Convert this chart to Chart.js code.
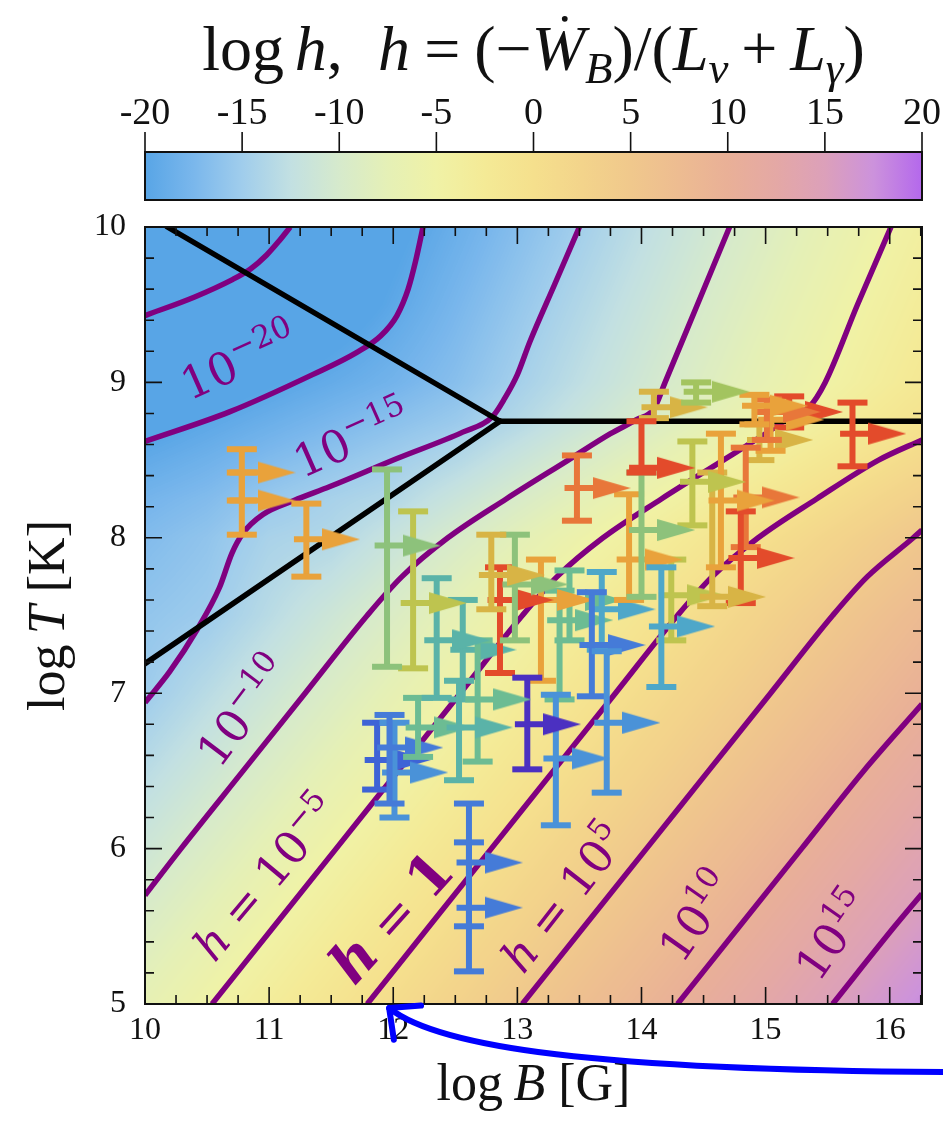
<!DOCTYPE html>
<html><head><meta charset="utf-8">
<script src="https://cdn.jsdelivr.net/npm/chart.js@4.4.0/dist/chart.umd.min.js"></script>
<style>html,body{margin:0;padding:0;background:#fff;}#wrap{width:943px;height:1123px;}</style>
</head><body><div id="wrap"><canvas id="c" width="943" height="1123"></canvas></div>
<script>
// ================= DATA =================
const xTicks = [10, 11, 12, 13, 14, 15, 16];
const yTicks = [5, 6, 7, 8, 9, 10];
const cbarTicks = [-20, -15, -10, -5, 0, 5, 10, 15, 20];

const gridB = [10, 10.5, 11, 11.5, 12, 12.5, 13, 13.5, 14, 14.5, 15, 15.5, 16, 16.5];
const gridT = [5, 5.5, 6, 6.5, 7, 7.5, 8, 8.25, 8.5, 8.75, 9, 9.5, 10];
const gridLogH = [
  [-7.16, -5.16, -3.16, -1.16, 0.84, 2.84, 4.84, 6.84, 8.84, 10.84, 12.84, 14.84, 16.84, 18.84],
  [-9.16, -7.16, -5.16, -3.16, -1.16, 0.84, 2.84, 4.84, 6.84, 8.84, 10.84, 12.84, 14.84, 16.84],
  [-11.16, -9.16, -7.16, -5.16, -3.16, -1.16, 0.84, 2.84, 4.84, 6.84, 8.84, 10.84, 12.84, 14.84],
  [-13.16, -11.16, -9.16, -7.16, -5.16, -3.16, -1.16, 0.84, 2.84, 4.84, 6.84, 8.84, 10.84, 12.84],
  [-15.16, -13.16, -11.16, -9.16, -7.16, -5.16, -3.16, -1.16, 0.84, 2.84, 4.84, 6.84, 8.84, 10.84],
  [-15.9, -15.17, -13.17, -11.17, -9.17, -7.17, -5.17, -3.17, -1.17, 0.83, 2.83, 4.83, 6.83, 8.83],
  [-17.0, -16.0, -14.3, -13.76, -11.76, -9.76, -7.76, -5.76, -3.76, -1.76, 0.24, 2.24, 4.24, 6.24],
  [-17.9, -17.0, -15.54, -14.45, -13.64, -11.64, -9.64, -7.64, -5.64, -3.64, -1.64, 0.36, 2.36, 4.36],
  [-19.3, -18.3, -17.09, -16.0, -14.92, -13.63, -11.63, -9.63, -7.63, -5.63, -3.63, -1.63, 0.37, 2.37],
  [-20.81, -19.72, -18.64, -17.55, -16.47, -15.38, -13.63, -11.63, -9.63, -7.63, -5.63, -3.63, -1.63, 0.37],
  [-22.36, -21.27, -20.19, -19.10, -18.02, -16.63, -14.68, -12.73, -10.78, -8.83, -6.88, -4.93, -2.98, -1.03],
  [-25.46, -24.37, -23.29, -21.56, -19.61, -17.66, -15.71, -13.76, -11.81, -9.86, -7.91, -5.96, -4.01, -2.06],
  [-28.56, -26.49, -24.54, -22.59, -20.64, -18.69, -16.74, -14.79, -12.84, -10.89, -8.94, -6.99, -5.04, -3.09]
];

// contour lines of log h  [log B, log T]
const contourM25 = [[10,9.43],[10.4,9.55],[10.7,9.66],[10.85,9.73],[10.98,9.82],[11.08,9.91],[11.17,10]];
const contourM20 = [[10,8.62],[10.68,8.81],[11.35,9.05],[11.7,9.19],[11.9,9.3],[12.03,9.43],[12.12,9.6],[12.18,9.78],[12.24,10]];
const contourM15 = [[10,6.94],[10.2,7.14],[10.42,7.41],[10.6,7.68],[10.7,7.9],[10.79,8.03],[10.95,8.15],[11.2,8.24],[11.49,8.33],[12.03,8.51],[12.56,8.68],[12.8,8.78],[12.9,8.9],[13.0,9.05],[13.1,9.26],[13.3,9.63],[13.5,10]];
const contourM10 = [[10,5.7],[10.29,6],[10.79,6.5],[11.29,7],[11.79,7.5],[12.07,7.75],[12.44,8],[12.91,8.25],[13.41,8.5],[13.75,8.67],[13.96,8.76],[14.1,8.83],[14.19,9],[14.45,9.5],[14.71,10]];
const contourM5 = [[10.54,5],[11.04,5.5],[11.54,6],[12.04,6.5],[12.54,7],[13.04,7.5],[13.32,7.75],[13.69,8],[14.16,8.25],[14.66,8.5],[14.96,8.65],[15.17,8.76],[15.35,8.84],[15.48,9],[15.74,9.5],[16.01,10]];
const contour0 = [[11.79,5],[12.29,5.5],[12.79,6],[13.29,6.5],[13.79,7],[14.29,7.5],[14.57,7.75],[14.94,8],[15.41,8.25],[15.91,8.5],[16.26,8.63]];
const contour5 = [[13.04,5],[13.54,5.5],[14.04,6],[14.54,6.5],[15.04,7],[15.54,7.5],[15.82,7.75],[16.19,8],[16.26,8.05]];
const contour10 = [[14.29,5],[14.79,5.5],[15.29,6],[15.79,6.5],[16.26,6.93]];
const contour15 = [[15.54,5],[16.04,5.5],[16.26,5.71]];

// regime boundaries (black)
const boundaryUpper = [[10.18,10],[12.86,8.75]];
const boundaryDiag = [[10,7.19],[12.86,8.75]];
const boundaryHoriz = [[12.86,8.75],[16.26,8.75]];

// sources: log B (lower limit), log T, log T range, colour class
const srcB   = [10.78,10.78,11.30,11.95,12.16,12.35,12.53,12.20,12.68,11.97,12.01,11.87,13.08,13.31,13.72,13.60,14.16,12.61,12.61,12.79,12.98,12.86,13.19,13.48,14.00,14.00,13.90,14.41,14.64,14.57,14.80,14.84,15.70,14.44,14.10,14.91,15.01,15.04,14.95,15.19,13.68,14.24,13.34,12.56,13.42];
const srcT   = [8.42,8.24,7.99,7.95,7.58,7.34,6.78,6.78,6.96,6.65,6.49,6.57,6.80,6.58,6.81,7.31,7.43,5.91,5.62,7.76,7.70,7.60,7.60,8.32,8.45,8.05,7.86,8.36,8.24,7.62,7.87,8.26,8.67,8.94,8.84,8.85,8.81,8.76,8.63,8.81,7.54,7.63,7.47,7.28,7.60];
const srcTlo = [8.24,8.02,7.75,7.17,7.16,6.97,6.44,6.59,6.56,6.29,6.20,6.38,6.51,6.15,6.36,6.98,7.04,5.21,5.50,7.54,7.34,7.13,7.08,8.11,8.42,7.62,7.60,8.08,7.81,7.56,7.58,7.94,8.46,8.87,8.77,8.73,8.63,8.56,8.50,8.71,7.28,7.34,6.96,6.96,7.34];
const srcThi = [8.57,8.42,8.22,8.44,8.17,7.74,7.08,6.97,7.34,6.86,6.81,6.81,7.10,6.99,7.27,7.65,7.81,6.29,6.04,8.02,8.02,7.81,7.86,8.53,8.75,8.42,8.28,8.62,8.67,8.42,8.17,8.58,8.87,9.00,8.94,8.92,8.89,8.85,8.73,8.91,7.78,7.86,7.66,7.60,7.79];
const srcClass = ['orange','orange','orange','green','olive','teal','teal','tealgreen','tealgreen','blue','skyblue','royal','indigo','skyblue','skyblue','blue','cyan','blue','blue','gold','green','red','orange','redorange','red','green','orange','olive','orange','gold','red','redorange','red','lightgreen','gold','orange','redorange','orange','gold','red','cyan','olive','tealgreen','teal','tealgreen'];

// ================= STYLE =================
const classColor = {orange:'#e9a23b', redorange:'#e8773a', red:'#e34b2b', gold:'#d8b445', olive:'#bec44f', lightgreen:'#a3c45f', green:'#8dc27b', tealgreen:'#6cbc93', teal:'#5ab3a8', cyan:'#4ea7c9', skyblue:'#4a92d8', blue:'#457bd8', royal:'#3e63d6', indigo:'#4b30c1'};
const cmapVals = [-20,-17.5,-15,-12.5,-10,-7.5,-5,-2.5,0,2.5,5,7.5,10,12.5,15,17.5,20];
const cmapRGB = [[88,165,230],[122,183,236],[160,205,236],[194,224,226],[214,234,204],[229,240,182],[240,242,166],[244,234,150],[245,224,141],[243,212,139],[240,200,140],[237,188,145],[233,176,151],[228,168,165],[220,160,186],[204,146,220],[180,104,236]];
const PURPLE = '#800080';
const SERIF = '"Liberation Serif", "DejaVu Serif", serif';
const LSERIF = '"DejaVu Serif", serif';
const ARROW_OFF = 0.28, STUB = 0.1;

function cmap(v){
  if (v <= cmapVals[0]) return cmapRGB[0];
  if (v >= cmapVals[cmapVals.length-1]) return cmapRGB[cmapRGB.length-1];
  let k = 0; while (v > cmapVals[k+1]) k++;
  const f = (v - cmapVals[k])/(cmapVals[k+1]-cmapVals[k]);
  const a = cmapRGB[k], b = cmapRGB[k+1];
  return [a[0]+(b[0]-a[0])*f, a[1]+(b[1]-a[1])*f, a[2]+(b[2]-a[2])*f];
}
const LUT = []; for (let i=0;i<=400;i++) LUT.push(cmap(-20 + i*0.1));

const headCache = {};
function head(color){
  if (headCache[color]) return headCache[color];
  const c = document.createElement('canvas'); c.width = 38; c.height = 24;
  const g = c.getContext('2d'); g.fillStyle = color;
  g.beginPath(); g.moveTo(0,1); g.lineTo(38,12); g.lineTo(0,23); g.closePath(); g.fill();
  headCache[color] = c; return c;
}

const toXY = arr => arr.map(p => ({x:p[0], y:p[1]}));
const datasets = [];
for (let i=0;i<srcB.length;i++){
  const col = classColor[srcClass[i]];
  datasets.push({
    data:[{x:srcB[i],y:srcTlo[i]},{x:srcB[i],y:srcThi[i]},{x:srcB[i],y:null},{x:srcB[i]-STUB,y:srcT[i]},{x:srcB[i]+ARROW_OFF,y:srcT[i]}],
    borderColor:col, backgroundColor:col, borderWidth:6, borderCapStyle:'butt',
    pointStyle:['line','line','line','line',head(col)], pointRadius:[15,15,0,0,1],
    pointBorderWidth:6, pointBorderColor:col, pointBackgroundColor:col,
    spanGaps:false, tension:0, order:1
  });
}
[boundaryUpper, boundaryDiag, boundaryHoriz].forEach(b => datasets.push({
  data:toXY(b), borderColor:'#000', borderWidth:5.5, pointRadius:0, tension:0, order:2, borderCapStyle:'round'
}));
[contourM25, contourM20, contourM15, contourM10, contourM5, contour0, contour5, contour10, contour15].forEach(c => datasets.push({
  data:toXY(c), borderColor:PURPLE, borderWidth:5.5, pointRadius:0, cubicInterpolationMode:'monotone', order:3
}));

// contour label annotations (anchor in data coords)
const contourLabels = [
  {B:10.76, T:9.13, rot:-24, parts:[['10','n'],['\u221220','sup']]},
  {B:11.67, T:8.63, rot:-24, parts:[['10','n'],['\u221215','sup']]},
  {B:10.80, T:6.88, rot:-53, parts:[['10','n'],['\u221210','sup']]},
  {B:10.98, T:5.81, rot:-50, parts:[['h','i'],[' = ','n'],['10','n'],['\u22125','sup']]},
  {B:12.01, T:5.54, rot:-48, parts:[['h','bi'],[' = ','bn'],['1','b']]},
  {B:13.38, T:5.68, rot:-52, parts:[['h','i'],[' = ','n'],['10','n'],['5','sup']]},
  {B:14.45, T:5.56, rot:-55, parts:[['10','n'],['10','sup']]},
  {B:15.55, T:5.44, rot:-55, parts:[['10','n'],['15','sup']]}
];
const labelFonts = {
  n:{f:`45px ${LSERIF}`, dy:0}, i:{f:`italic 45px ${LSERIF}`, dy:0}, sup:{f:`31px ${LSERIF}`, dy:-19},
  b:{f:`bold 56px ${LSERIF}`, dy:0}, bi:{f:`italic bold 56px ${LSERIF}`, dy:0}, bn:{f:`50px ${LSERIF}`, dy:0}
};
const blueArrow = [[16.45,4.562],[13.66,4.575],[12.37,4.717],[11.967,4.974]];

// ================= PLUGINS =================
function bilinear(B, T){
  let i = 0; while (i < gridB.length-2 && B > gridB[i+1]) i++;
  let j = 0; while (j < gridT.length-2 && T > gridT[j+1]) j++;
  const fx = Math.min(1, Math.max(0, (B-gridB[i])/(gridB[i+1]-gridB[i])));
  const fy = Math.min(1, Math.max(0, (T-gridT[j])/(gridT[j+1]-gridT[j])));
  const a = gridLogH[j][i], b = gridLogH[j][i+1], c = gridLogH[j+1][i], d = gridLogH[j+1][i+1];
  return (a*(1-fx)+b*fx)*(1-fy) + (c*(1-fx)+d*fx)*fy;
}
const heatPlugin = {
  id:'heat',
  beforeDatasetsDraw(chart){
    const {ctx, chartArea:a, scales:{x, y}} = chart;
    const w = Math.round(a.right-a.left), h = Math.round(a.bottom-a.top);
    const off = document.createElement('canvas'); off.width = w; off.height = h;
    const o = off.getContext('2d'); const img = o.createImageData(w, h); const d = img.data;
    for (let j=0;j<h;j++){
      const T = y.getValueForPixel(a.top + j + 0.5);
      for (let i=0;i<w;i++){
        const B = x.getValueForPixel(a.left + i + 0.5);
        const v = bilinear(B, T);
        let k = Math.round((v+20)*10); if (k<0) k=0; if (k>400) k=400;
        const c = LUT[k]; const p = (j*w+i)*4;
        d[p]=c[0]; d[p+1]=c[1]; d[p+2]=c[2]; d[p+3]=255;
      }
    }
    o.putImageData(img, 0, 0);
    ctx.drawImage(off, a.left, a.top);
  }
};

function richWidth(ctx, parts){ let w=0; for (const p of parts){ ctx.font=p.f; p.w = ctx.measureText(p.t).width + (p.sp||0); w += p.w; } return w; }
function drawRich(ctx, parts, x0, y0){
  let xx = x0;
  for (const p of parts){
    ctx.font = p.f; ctx.fillText(p.t, xx, y0 + (p.dy||0));
    if (p.dot){ const m = ctx.measureText(p.t).width; ctx.beginPath(); ctx.arc(xx + m*0.62, y0 - p.size*0.80, p.size*0.045, 0, Math.PI*2); ctx.fill(); }
    xx += p.w;
  }
}

const overlayPlugin = {
  id:'overlay',
  afterDatasetsDraw(chart){
    const {ctx, chartArea:a, scales:{x, y}} = chart;
    ctx.save();
    ctx.fillStyle = PURPLE; ctx.textBaseline = 'alphabetic'; ctx.textAlign = 'left';
    for (const L of contourLabels){
      const parts = L.parts.map(([t, s]) => ({t, f:labelFonts[s].f, dy:labelFonts[s].dy}));
      const w = richWidth(ctx, parts);
      ctx.save();
      ctx.translate(x.getPixelForValue(L.B), y.getPixelForValue(L.T));
      ctx.rotate(L.rot*Math.PI/180);
      drawRich(ctx, parts, -w/2, 15);
      ctx.restore();
    }
    ctx.strokeStyle = '#111'; ctx.lineWidth = 2;
    ctx.strokeRect(a.left, a.top, a.right-a.left, a.bottom-a.top);
    ctx.lineWidth = 1.6; ctx.beginPath();
    for (let k=0;k<=25;k++){
      const v = 10 + k*0.25; if (v > 16.26) break;
      const px = x.getPixelForValue(v); const L = (k%4===0) ? 17 : 9;
      ctx.moveTo(px, a.bottom); ctx.lineTo(px, a.bottom-L);
      ctx.moveTo(px, a.top); ctx.lineTo(px, a.top+L);
    }
    for (let k=0;k<=25;k++){
      const v = 5 + k*0.2; const py = y.getPixelForValue(v); const L = (k%5===0) ? 17 : 9;
      ctx.moveTo(a.left, py); ctx.lineTo(a.left+L, py);
      ctx.moveTo(a.right, py); ctx.lineTo(a.right-L, py);
    }
    ctx.stroke();
    ctx.restore();
  },
  afterDraw(chart){
    const {ctx, chartArea:a, scales:{x, y}} = chart;
    ctx.save();
    ctx.fillStyle = '#111'; ctx.textBaseline = 'alphabetic'; ctx.textAlign = 'left';
    const cx = (a.left + a.right)/2;
    {
      const F = 64;
      const R = `${F}px ${SERIF}`, I = `italic ${F}px ${SERIF}`, S = `italic ${Math.round(F*0.7)}px ${SERIF}`;
      const parts = [
        {t:'log', f:R, sp:F*0.17}, {t:'h', f:I}, {t:',', f:R, sp:F*0.55}, {t:'h', f:I, sp:F*0.22},
        {t:'=', f:R, sp:F*0.22}, {t:'(', f:R}, {t:'\u2212', f:R}, {t:'W', f:I, dot:true, size:F},
        {t:'B', f:S, dy:F*0.2}, {t:')', f:R}, {t:'/', f:R}, {t:'(', f:R}, {t:'L', f:I}, {t:'\u03bd', f:S, dy:F*0.2, sp:F*0.2},
        {t:'+', f:R, sp:F*0.2}, {t:'L', f:I}, {t:'\u03b3', f:S, dy:F*0.2}, {t:')', f:R}
      ];
      const w = richWidth(ctx, parts);
      drawRich(ctx, parts, cx - w/2, 70);
    }
    {
      const top = 152, bot = 200, L = a.left, Rr = a.right;
      const g = ctx.createLinearGradient(L, 0, Rr, 0);
      cmapVals.forEach((v, i) => { const c = cmapRGB[i]; g.addColorStop((v+20)/40, `rgb(${c[0]},${c[1]},${c[2]})`); });
      ctx.fillStyle = g; ctx.fillRect(L, top, Rr-L, bot-top);
      ctx.strokeStyle = '#111'; ctx.lineWidth = 2; ctx.strokeRect(L, top, Rr-L, bot-top);
      ctx.lineWidth = 1.6; ctx.beginPath();
      ctx.fillStyle = '#111'; ctx.font = `38px ${SERIF}`; ctx.textAlign = 'center';
      for (const v of cbarTicks){
        const px = L + (v+20)/40*(Rr-L);
        ctx.moveTo(px, top); ctx.lineTo(px, top-20);
        ctx.fillText(String(v), px, 124);
      }
      ctx.stroke();
      ctx.textAlign = 'left';
    }
    {
      const F = 52;
      const R = `${F}px ${SERIF}`, I = `italic ${F}px ${SERIF}`;
      const xp = [{t:'log', f:R, sp:F*0.2}, {t:'B', f:I, sp:F*0.25}, {t:'[G]', f:R}];
      const wx = richWidth(ctx, xp);
      drawRich(ctx, xp, cx - wx/2, 1100);
      const yp = [{t:'log', f:R, sp:F*0.2}, {t:'T', f:I, sp:F*0.25}, {t:'[K]', f:R}];
      const wy = richWidth(ctx, yp);
      ctx.save(); ctx.translate(64, (a.top+a.bottom)/2); ctx.rotate(-Math.PI/2);
      drawRich(ctx, yp, -wy/2, 0); ctx.restore();
    }
    {
      const P = blueArrow.map(p => [x.getPixelForValue(p[0]), y.getPixelForValue(p[1])]);
      ctx.strokeStyle = '#0000ff'; ctx.lineWidth = 6; ctx.lineCap = 'round';
      ctx.beginPath(); ctx.moveTo(P[0][0], P[0][1]);
      ctx.bezierCurveTo(P[1][0], P[1][1], P[2][0], P[2][1], P[3][0], P[3][1]); ctx.stroke();
      const ang = Math.atan2(P[3][1]-P[2][1], P[3][0]-P[2][0]);
      const len = 32, spread = 0.75;
      ctx.beginPath();
      ctx.moveTo(P[3][0] - len*Math.cos(ang-spread), P[3][1] - len*Math.sin(ang-spread));
      ctx.lineTo(P[3][0], P[3][1]);
      ctx.lineTo(P[3][0] - len*Math.cos(ang+spread), P[3][1] - len*Math.sin(ang+spread));
      ctx.lineJoin = 'round'; ctx.stroke();
    }
    ctx.restore();
  }
};

new Chart(document.getElementById('c').getContext('2d'), {
  type:'line',
  data:{datasets},
  options:{
    responsive:false, animation:false, events:[], devicePixelRatio:1,
    layout:{padding:{top:227, right:20, bottom:0, left:0}},
    plugins:{legend:{display:false}, tooltip:{enabled:false}, title:{display:false}},
    scales:{
      x:{type:'linear', min:10, max:16.26,
         afterBuildTicks:s => { s.ticks = xTicks.map(v => ({value:v})); },
         afterFit:s => { s.height = 119; },
         grid:{display:false, drawTicks:false}, border:{display:false},
         ticks:{font:{family:'Liberation Serif', size:32}, color:'#111', padding:7, maxRotation:0, autoSkip:false, callback:v => String(v)}},
      y:{type:'linear', min:5, max:10,
         afterBuildTicks:s => { s.ticks = yTicks.map(v => ({value:v})); },
         afterFit:s => { s.width = 145; },
         grid:{display:false, drawTicks:false}, border:{display:false},
         ticks:{font:{family:'Liberation Serif', size:32}, color:'#111', padding:19, autoSkip:false, callback:v => String(v)}}
    }
  },
  plugins:[heatPlugin, overlayPlugin]
});
</script></body></html>
